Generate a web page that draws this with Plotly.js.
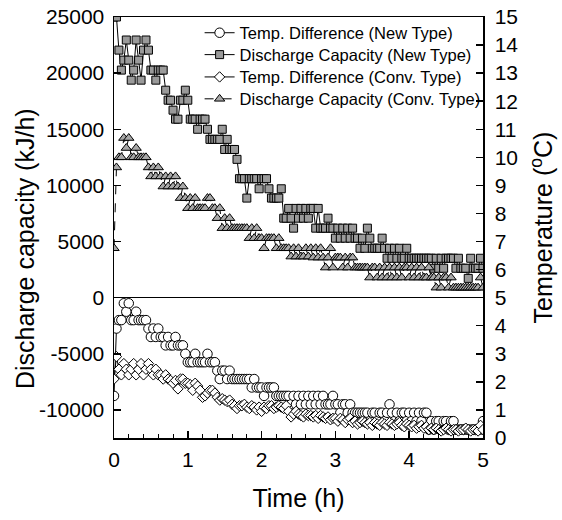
<!DOCTYPE html>
<html>
<head>
<meta charset="utf-8">
<script src="https://cdn.plot.ly/plotly-3.0.1.min.js"></script>
<style>html,body{margin:0;padding:0;background:#fff;}</style>
</head>
<body>
<div id="chart" style="width:562px;height:520px;"></div>
<script>
// Time in minutes (sampled every 2 min)
const timeMin = [0,2,4,6,8,10,12,14,16,18,20,22,24,26,28,30,32,34,36,38,40,42,44,46,48,50,52,54,56,58,
60,62,64,66,68,70,72,74,76,78,80,82,84,86,88,90,92,94,96,98,100,102,104,106,108,110,112,114,116,118,
120,122,124,126,128,130,132,134,136,138,140,142,144,146,148,150,152,154,156,158,160,162,164,166,168,170,172,174,176,178,
180,182,184,186,188,190,192,194,196,198,200,202,204,206,208,210,212,214,216,218,220,222,224,226,228,230,232,234,236,238,
240,242,244,246,248,250,252,254,256,258,260,262,264,266,268,270,272,274,276,278,280,282,284,286,288,290,292,294,296,298,300];

// Temp. Difference (New Type), degC (right axis)
const tempNew = [1.5,3.9,4.2,4.2,4.8,4.5,4.8,4.2,4.2,4.5,
4.2,4.2,4.2,4.2,3.9,3.6,3.9,3.6,3.9,3.6,
3.6,3.3,3.6,3.3,3.3,3.6,3.3,3.3,3.3,3.0,
2.7,2.7,2.7,3.0,2.7,2.7,2.7,2.7,3.0,2.7,
2.7,2.7,2.4,2.1,2.4,2.4,2.1,2.4,2.1,2.1,
2.1,2.1,2.1,2.1,2.1,2.1,1.8,2.1,1.8,1.8,
1.8,1.5,1.8,1.8,1.8,1.8,1.5,1.5,1.5,1.5,
1.5,1.5,1.2,1.5,1.2,1.5,1.2,1.5,1.2,1.5,
1.2,1.5,1.2,1.5,1.2,1.5,1.2,1.2,1.2,1.5,
1.2,1.2,0.9,1.2,1.2,0.9,1.2,0.9,0.9,0.9,
0.9,0.9,0.9,0.9,0.6,0.9,0.9,0.6,0.9,0.9,
0.6,0.9,1.2,0.9,0.6,0.9,0.6,0.9,0.9,0.6,
0.9,0.6,0.9,0.6,0.9,0.6,0.9,0.9,0.3,0.6,
0.3,0.6,0.6,0.3,0.6,0.6,0.3,0.6,0.6,0.3,
0.3,0.3,0.3,0.3,0.3,0.3,0.3,0.3,0.3,0.3,
0.6];

// Discharge Capacity (New Type), kJ/h (left axis)
const capNew = [25000,25000,22050,20270,21160,22950,21160,19375,20270,22950,
21160,19375,22050,22950,22050,20270,20270,19375,20270,20270,
20270,18480,17590,17590,16700,15900,15900,17590,17590,18480,
17590,15900,15900,15900,15000,15900,15900,15900,15000,14100,
14100,14100,14100,14100,15000,13200,14100,13200,13200,13200,
12320,10600,10600,10600,8870,10600,10600,10600,10600,9700,
10600,10600,10600,9700,8870,8870,8870,8870,9700,7080,
7080,7950,7080,6190,7950,7080,7950,7080,7950,7080,
7950,7950,6190,7950,6190,6190,6190,7080,6190,6190,
5300,6190,5300,6190,5300,6190,5300,6190,5300,5300,
4400,5300,4400,6190,5300,4400,4400,4400,4400,5300,
4400,3510,4400,3510,4400,3510,4400,3510,3510,4400,
3510,3510,3510,3510,3510,3510,3510,3510,3510,3510,
2620,3510,2620,3510,2620,3510,3510,3510,3510,2620,
3510,2620,2620,2620,1720,3510,2620,2620,2620,3510,
2620];

// Temp. Difference (Conv. Type), degC (right axis)
const tempConv = [2.1,2.9,2.45,2.25,2.65,2.45,2.25,2.45,2.65,2.25,
2.45,2.65,2.25,2.45,2.65,2.45,2.25,2.45,2.25,2.25,
2.1,2.25,2.1,2.05,1.95,2.05,1.75,2.1,2.1,1.95,
1.95,1.9,1.7,1.95,1.85,1.7,1.45,1.5,1.6,1.7,
1.7,1.6,1.45,1.35,1.4,1.35,1.3,1.35,1.2,1.15,
1.05,1.15,1.15,1.2,1.1,1.05,1.15,1.1,1.0,1.1,
0.95,1.1,1.05,1.15,1.15,1.05,1.1,1.15,1.1,1.05,
1.15,0.95,0.75,0.85,0.95,0.85,0.8,0.75,0.85,0.8,
0.8,0.75,0.8,0.7,0.8,0.75,0.7,0.75,0.65,0.7,
0.7,0.6,0.7,0.65,0.55,0.65,0.7,0.55,0.6,0.5,
0.55,0.6,0.55,0.5,0.55,0.45,0.55,0.5,0.45,0.55,
0.5,0.45,0.55,0.5,0.45,0.5,0.55,0.45,0.4,0.5,
0.45,0.4,0.45,0.35,0.4,0.45,0.35,0.4,0.3,0.35,
0.3,0.35,0.3,0.25,0.3,0.35,0.3,0.25,0.3,0.3,
0.25,0.3,0.3,0.35,0.3,0.25,0.3,0.3,0.25,0.45,
0.3];

// Discharge Capacity (Conv. Type), kJ/h (left axis)
const capConv = [4400,11600,12500,12500,14220,13330,14220,12500,12500,13330,
12500,12500,12500,12500,11600,10800,11600,10800,11600,10800,
9900,10800,9900,10800,9900,10800,9900,8870,9900,8870,
7970,8870,7970,8870,7970,7970,7970,7970,8870,8870,
7970,7970,7080,7970,6190,7080,6190,7080,6190,6190,
6190,6190,6190,6190,6190,5300,6190,5300,6190,5300,
5300,4400,5300,5300,5300,5300,4400,5300,4400,4400,
4400,4400,3660,4400,3660,4400,3660,3660,4400,3660,
4400,3570,4400,3570,4400,3570,2680,3570,4400,2680,
3570,3570,3570,2680,3570,2680,3570,3570,2680,2680,
2680,2680,2680,2680,1790,2680,2680,1790,2680,1790,
2680,1790,2680,1790,2680,1790,2680,1790,2680,2680,
1790,2680,1790,2680,1790,2680,1790,1790,2680,1790,
1790,890,1790,890,1790,1790,890,1790,890,890,
890,890,890,890,890,890,890,890,890,1790,
890];

const seriesNames = ['Temp. Difference (New Type)','Discharge Capacity (New Type)','Temp. Difference (Conv. Type)','Discharge Capacity (Conv. Type)'];
const capTickVals = [-10000,-5000,0,5000,10000,15000,20000,25000];
const capTickText = ['-10000','-5000','0','5000','10000','15000','20000','25000'];
const tempTickVals = [0,1,2,3,4,5,6,7,8,9,10,11,12,13,14,15];
const timeTickVals = [0,1,2,3,4,5];

const hours = timeMin.map(m => m / 60);

const traces = [
  {x: hours, y: tempNew, yaxis: 'y2', name: seriesNames[0], mode: 'lines+markers', legend: 'legend',
   line: {color: 'black', width: 1},
   marker: {symbol: 'circle', size: 9.5, color: 'white', line: {color: 'black', width: 1}}},
  {x: hours, y: capNew, yaxis: 'y', name: seriesNames[1], mode: 'lines+markers', legend: 'legend2',
   line: {color: 'black', width: 1},
   marker: {symbol: 'square', size: 8, color: '#9a9a9a', line: {color: 'black', width: 1}}},
  {x: hours, y: tempConv, yaxis: 'y2', name: seriesNames[2], mode: 'lines+markers', legend: 'legend3',
   line: {color: 'black', width: 1},
   marker: {symbol: 'diamond', size: 8, color: 'white', line: {color: 'black', width: 1}}},
  {x: hours, y: capConv, yaxis: 'y', name: seriesNames[3], mode: 'lines+markers', legend: 'legend4',
   line: {color: 'black', width: 1, dash: 'dash'},
   marker: {symbol: 'triangle-up', size: 9, color: '#a8a8a8', line: {color: 'black', width: 1}}}
];

const axisCommon = {
  showline: true, linecolor: 'black', linewidth: 1.5,
  ticks: 'inside', ticklen: 7, tickwidth: 1.5, tickcolor: 'black',
  showgrid: false, tickfont: {size: 21, color: 'black'}
};

function legendAt(y) {
  return {x: 0.232, y: y, xanchor: 'left', yanchor: 'middle', bgcolor: 'rgba(0,0,0,0)',
          font: {size: 16.5, color: 'black'}, borderwidth: 0};
}

const layout = {
  width: 562, height: 520,
  margin: {l: 114, r: 79, t: 17, b: 82, pad: 0},
  paper_bgcolor: 'white', plot_bgcolor: 'white',
  font: {family: '"Liberation Sans", Arial, sans-serif', color: 'black'},
  showlegend: true,
  legend: legendAt(0.962),
  legend2: legendAt(0.910),
  legend3: legendAt(0.857),
  legend4: legendAt(0.805),
  xaxis: Object.assign({}, axisCommon, {
    range: [0, 5], tickvals: timeTickVals, mirror: true, zeroline: false, ticklabelstandoff: 2,
    minor: {dtick: 0.2, tick0: 0, ticks: 'inside', ticklen: 4, tickwidth: 1, tickcolor: 'black', showgrid: false},
    title: {text: 'Time (h)', font: {size: 25}, standoff: 20}
  }),
  yaxis: Object.assign({}, axisCommon, {
    range: [-12500, 25000], tickvals: capTickVals, ticktext: capTickText, ticklabelstandoff: 4,
    zeroline: true, zerolinecolor: 'black', zerolinewidth: 1
  }),
  yaxis2: Object.assign({}, axisCommon, {
    overlaying: 'y', side: 'right', range: [0, 15], tickvals: tempTickVals, zeroline: false,
    ticklabelstandoff: 6,
    title: {text: 'Temperature (<sup>o</sup>C)', font: {size: 25}, standoff: 17}
  }),
  annotations: [
    {text: 'Discharge capacity (kJ/h)', xref: 'paper', yref: 'paper', x: -0.241, y: 0.449,
     xanchor: 'center', yanchor: 'middle', textangle: -90, showarrow: false,
     font: {size: 25, color: 'black'}}
  ]
};

Plotly.newPlot('chart', traces, layout, {displayModeBar: false, staticPlot: true});
</script>
</body>
</html>
